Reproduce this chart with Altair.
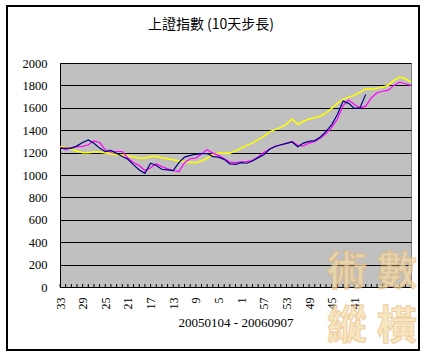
import json
import altair as alt
import pandas as pd

# category labels (10-day steps), one per point
x_labels = ["33","32","31","30","29","28","27","26","25","24","23","22","21","20","19","18","17",
            "16","15","14","13","12","11","10","9","8","7","6","5","4","3","2","1",
            "60","59","58","57","56","55","54","53","52","51","50","49","48","47","46","45",
            "44","43","42","41","40","39","38","37","36","35","34","33","32","31"]
shown_ticks = [0, 4, 8, 12, 16, 20, 24, 28, 32, 36, 40, 44, 48, 52]

blue = [1238,1240,1238,1260,1290,1313,1283,1240,1208,1220,1195,1165,1140,1090,1045,1015,1105,1085,
        1051,1045,1040,1110,1160,1175,1185,1190,1192,1164,1160,1140,1100,1095,1110,1105,1125,1155,
        1180,1230,1255,1270,1283,1295,1253,1285,1300,1307,1340,1390,1450,1540,1660,1640,1595,1600,1720]
magenta = [1250,1225,1245,1253,1255,1270,1305,1290,1225,1205,1210,1210,1150,1110,1085,1040,1065,1100,
           1075,1055,1040,1030,1110,1145,1150,1190,1225,1195,1175,1145,1115,1110,1118,1120,1132,1160,
           1200,1230,1255,1268,1282,1300,1265,1260,1285,1300,1330,1370,1425,1500,1620,1670,1630,1600,
           1615,1690,1735,1748,1758,1800,1830,1815,1800]
yellow = [1253,1245,1230,1215,1198,1198,1205,1205,1196,1190,1183,1178,1170,1162,1150,1150,1165,1165,
          1155,1145,1137,1125,1118,1114,1110,1125,1150,1185,1195,1194,1195,1215,1240,1265,1285,1315,
          1345,1385,1405,1425,1455,1500,1450,1480,1500,1512,1525,1555,1595,1640,1675,1695,1712,1740,
          1770,1766,1775,1785,1800,1845,1875,1860,1830]

title_text = "上證指數 (10天步長)"
x_title = "20050104 - 20060907"
watermark = ["術", "數", "縱", "橫"]

W, H = 351, 224
serif = "Liberation Serif"

def frame(vals, name):
    return pd.DataFrame({"idx": list(range(len(vals))), "value": vals, "series": name})

label_expr = json.dumps(x_labels) + "[datum.value]"

x_enc = alt.X("idx:Q", scale=alt.Scale(domain=[0, len(x_labels) - 1], nice=False, zero=False),
              axis=alt.Axis(values=shown_ticks, labelExpr=label_expr, labelAngle=-90,
                            labelFont=serif, labelFontSize=12, labelColor="black",
                            labelPadding=10, labelOverlap=False, labelFlush=False,
                            labelBound=False,
                            ticks=False, grid=False,
                            domainColor="black", domainWidth=1,
                            title=x_title, titleFont=serif, titleFontSize=13,
                            titleFontWeight="normal", titleColor="black",
                            titleY=29, titleBaseline="top"))
y_enc = alt.Y("value:Q", scale=alt.Scale(domain=[0, 2000], nice=False),
              axis=alt.Axis(values=list(range(0, 2001, 200)), format="d", labelFont=serif,
                            labelFontSize=12.5, labelColor="black", labelPadding=13,
                            ticks=False, grid=True, gridColor="black", gridWidth=1,
                            gridOpacity=1, domainColor="black", domainWidth=1, title=None))

def line(vals, name, color, width):
    return alt.Chart(frame(vals, name)).mark_line(color=color, strokeWidth=width).encode(
        x=x_enc, y=y_enc)

ticks_df = pd.DataFrame({"idx": list(range(len(x_labels)))})
ticks = alt.Chart(ticks_df).mark_rule(color="black", strokeWidth=1).encode(
    x=x_enc, y=alt.value(H - 3), y2=alt.value(H))

border = alt.Chart(pd.DataFrame({"a": [0]})).mark_rect(
    fill=None, filled=False, stroke="black", strokeWidth=2).encode(
    x=alt.value(7 - 60), x2=alt.value(419 - 60), y=alt.value(6 - 63), y2=alt.value(350 - 63))

title = alt.Chart(pd.DataFrame({"t": [title_text]})).mark_text(
    font="Noto Sans CJK TC", fontSize=14, color="black", align="center", baseline="middle").encode(
    text="t:N", x=alt.value(211 - 60), y=alt.value(25 - 63))

wm_df = pd.DataFrame({"ch": watermark,
                      "px": [347 - 60, 397 - 60, 347 - 60, 397 - 60],
                      "py": [273 - 63, 273 - 63, 327 - 63, 327 - 63]})
wm = alt.Chart(wm_df).mark_text(font="Noto Sans CJK TC", fontSize=40, fontWeight="bold",
                                fill="#F5DEA8", stroke="#E8B878", strokeWidth=1,
                                opacity=0.7, baseline="middle", align="center").encode(
    text="ch:N", x=alt.X("px:Q", scale=None), y=alt.Y("py:Q", scale=None))

chart = alt.layer(
    line(yellow, "yellow", "#FFFF00", 1.5),
    line(magenta, "magenta", "#FF00FF", 1.2),
    line(blue, "blue", "#000080", 1.2),
    ticks,
    border,
    title,
    wm,
).properties(
    width=W, height=H,
    autosize=alt.AutoSizeParams(type="none"),
    padding={"left": 60, "top": 63, "right": 16, "bottom": 68},
    background="white",
).configure_view(fill="#C0C0C0", stroke="#808080", strokeWidth=1)

chart.save("out.html", embed_options={"renderer": "svg", "actions": False})
